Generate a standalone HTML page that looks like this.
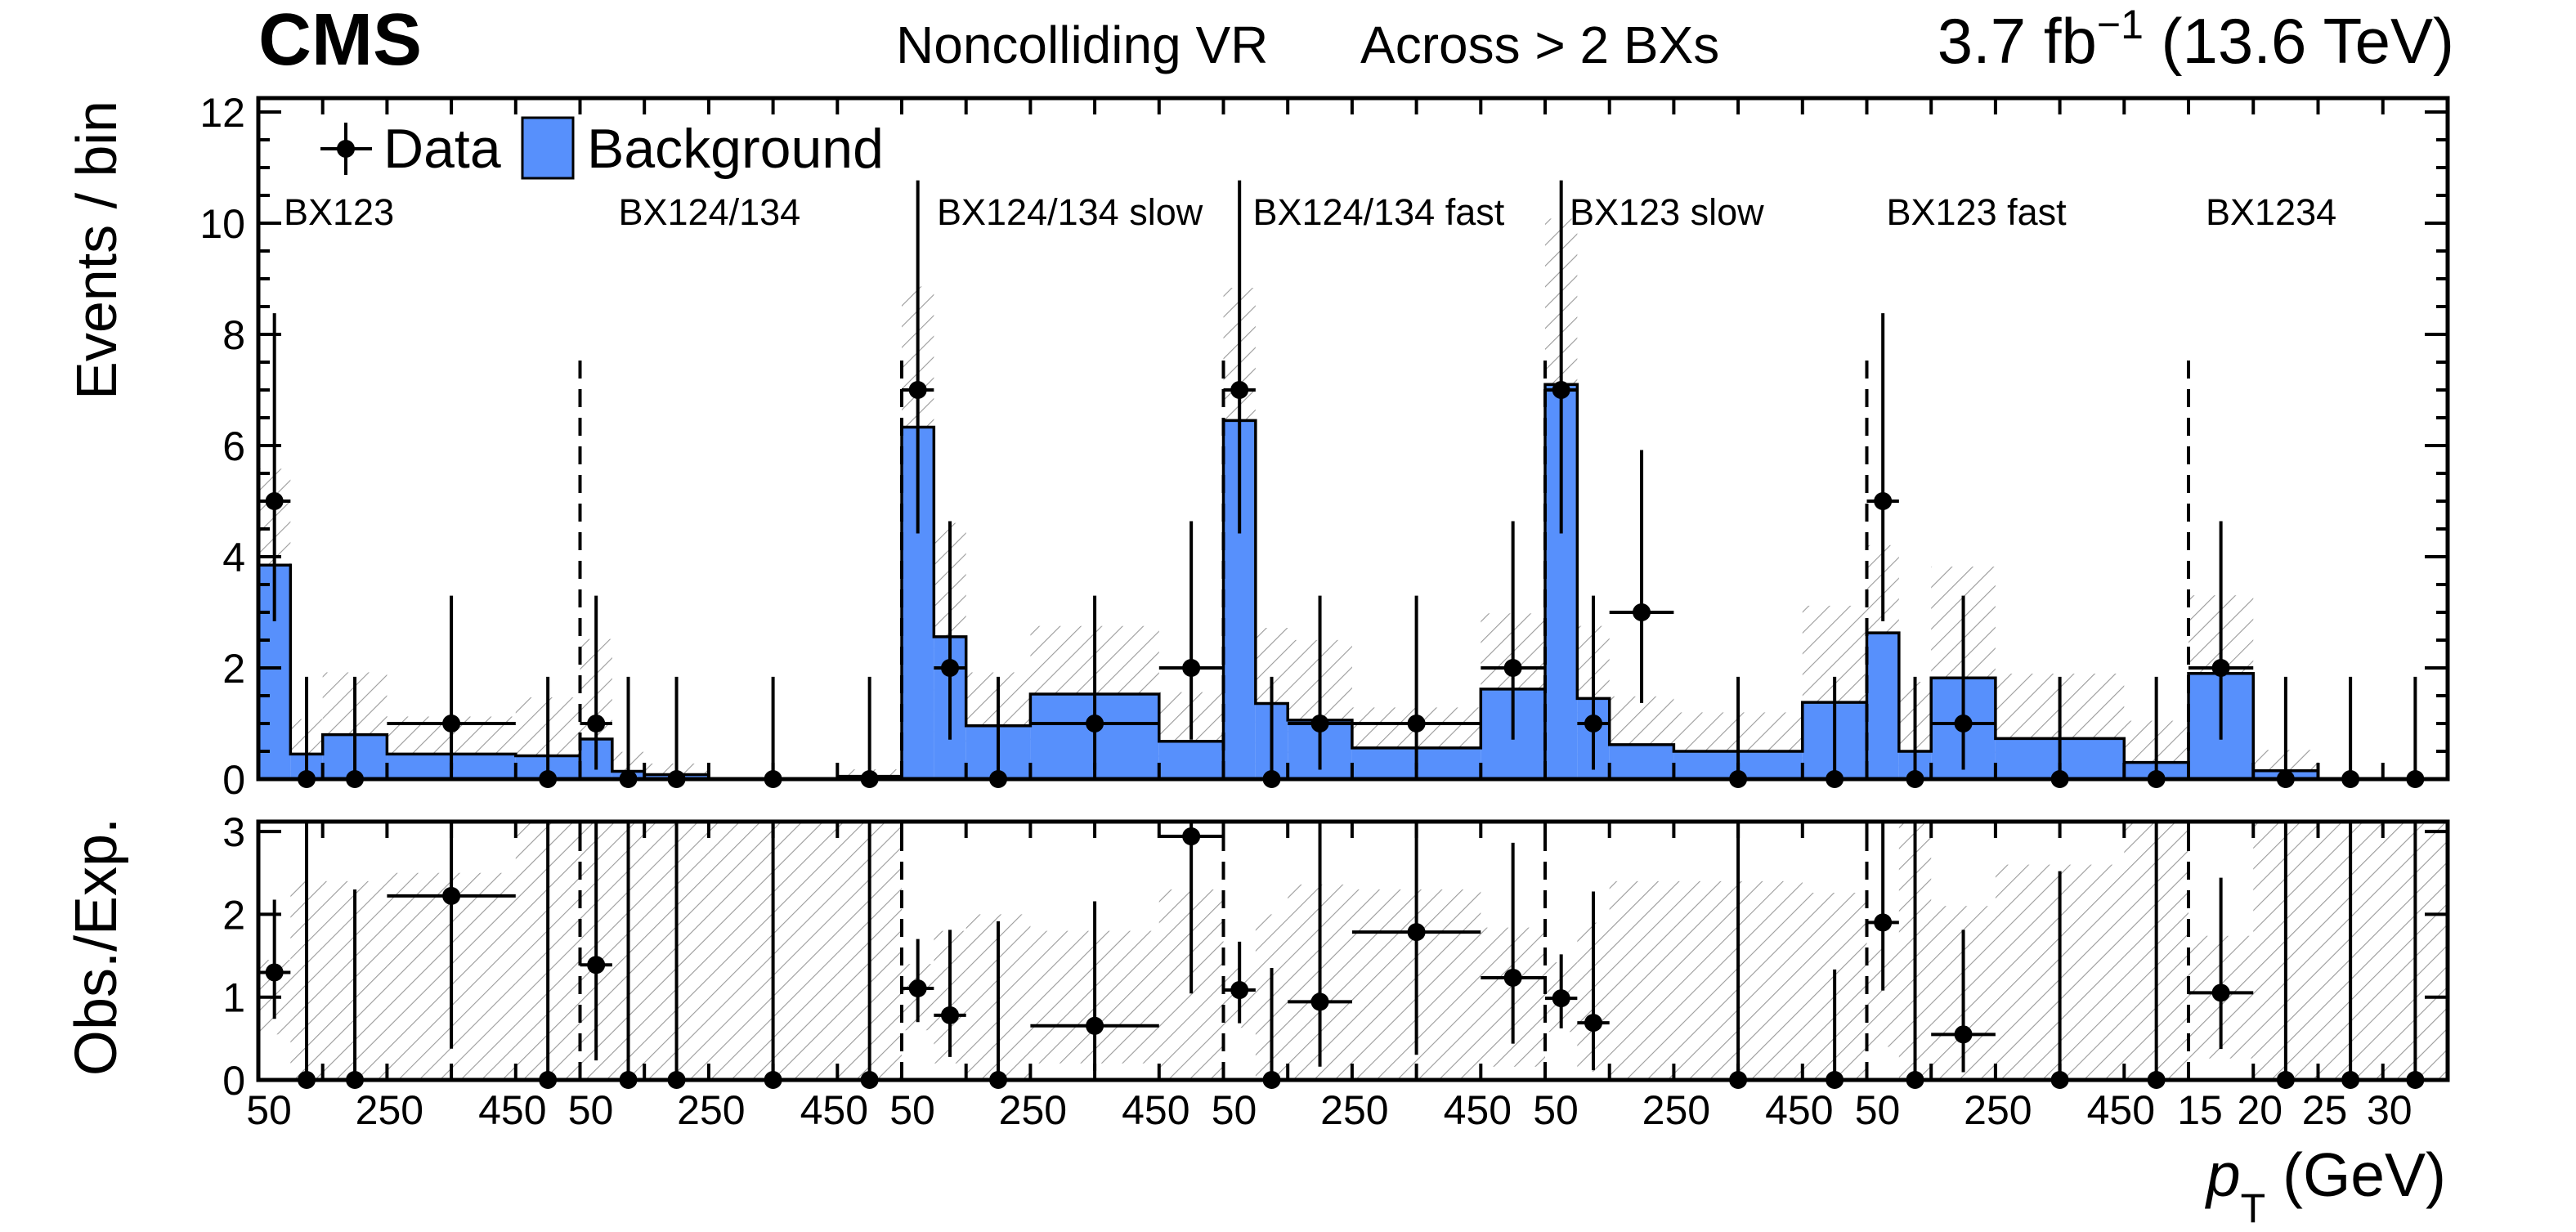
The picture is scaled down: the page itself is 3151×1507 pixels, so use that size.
<!DOCTYPE html>
<html><head><meta charset="utf-8">
<style>
html,body{margin:0;padding:0;background:#fff;}
svg{display:block;font-family:"Liberation Sans",Arial,sans-serif;}
</style></head>
<body>
<svg id="chart" width="3151" height="1507" viewBox="0 0 3151 1507" xmlns="http://www.w3.org/2000/svg">
<defs>
<pattern id="hatch" patternUnits="userSpaceOnUse" width="18" height="18" patternTransform="rotate(45)">
<line x1="0" y1="0" x2="0" y2="18" stroke="#9a9a9a" stroke-width="2.2"/>
</pattern>
<clipPath id="clipMain"><rect x="316" y="120" width="2678" height="833"/></clipPath>
<clipPath id="clipRatio"><rect x="316" y="1005" width="2678" height="316"/></clipPath>
</defs>
<g id="layer-hatch"></g>
<g id="layer-bg"></g>
<g id="layer-dividers"></g>
<g id="layer-data"></g>
<g id="layer-axes"></g>
<text x="316" y="79" font-size="90" font-weight="bold">CMS</text>
<text x="1096" y="77" font-size="64">Noncolliding VR</text>
<text x="1664" y="77" font-size="64">Across &gt; 2 BXs</text>
<text x="3002" y="77" font-size="78" text-anchor="end">3.7 fb<tspan dy="-30" font-size="50">−1</tspan><tspan dy="30"> (13.6 TeV)</tspan></text>
<g>
<line x1="392" y1="182" x2="455" y2="182" stroke="#000" stroke-width="4"/>
<line x1="423" y1="150" x2="423" y2="214" stroke="#000" stroke-width="4"/>
<circle cx="423" cy="182" r="11" fill="#000"/>
<text x="469" y="205" font-size="68">Data</text>
<rect x="639" y="144" width="62" height="74" fill="#5790fc" stroke="#000" stroke-width="3"/>
<text x="718" y="205" font-size="68">Background</text>
</g>
<text transform="translate(142,306) rotate(-90)" text-anchor="middle" font-size="70">Events / bin</text>
<text transform="translate(142,1158) rotate(-90)" text-anchor="middle" font-size="72">Obs./Exp.</text>
<text x="2992" y="1463" font-size="75" text-anchor="end"><tspan font-style="italic">p</tspan><tspan font-size="50" dy="32">T</tspan><tspan dy="-32"> (GeV)</tspan></text>
</svg>
<script>
// ---- data ----
const sectionNames = ["BX123","BX124/134","BX124/134 slow","BX124/134 fast","BX123 slow","BX123 fast","BX1234"];
const binEdgesPt = [50,100,150,250,450,550];
const binEdgesLast = [15,20,25,30,35];
const tickLabelsPt = ["50","250","450"];
const tickLabelsLast = ["15","20","25","30"];
const background = [
  [3.85,0.45,0.80,0.45,0.42],
  [0.72,0.14,0.08,0.01,0.05],
  [6.33,2.56,0.96,1.53,0.68],
  [6.45,1.36,1.06,0.56,1.62],
  [7.10,1.45,0.62,0.50,1.38],
  [2.63,0.50,1.82,0.73,0.30],
  [1.90,0.15,0.00,0.00]
];
const observed = [
  [5,0,0,1,0],
  [1,0,0,0,0],
  [7,2,0,1,2],
  [7,0,1,1,2],
  [7,1,3,0,0],
  [5,0,1,0,0],
  [2,0,0,0]
];
const relUnc = [
  [0.45,1.4,1.4,1.5,2.5],
  [2.5,2.5,2.5,2.5,2.5],
  [0.40,0.8,1.0,0.8,1.3],
  [0.37,1.0,1.36,1.3,0.84],
  [0.42,0.9,1.4,1.4,1.26],
  [0.60,2.5,1.1,1.6,2.5],
  [0.74,2.5,2.5,2.5]
];
const poissonLo = [0,0.17,0.71,1.37,2.09,2.84,3.62,4.42];
const poissonHi = [1.84,3.30,4.64,5.92,7.16,8.38,9.58,10.77];
const yTicksMain = [0,2,4,6,8,10,12];
const yTicksRatio = [0,1,2,3];
const labelOffsets = [31,47,43,36,30,24,21];

// ---- geometry ----
const NS = "http://www.w3.org/2000/svg";
const X0 = 316, X1 = 2994, SECW = 393.5;
const MAIN_T = 120, MAIN_B = 953, MAIN_UNIT = 68.0;
const R_T = 1005, R_B = 1321, R_UNIT = 101.3;
function secX0(s){ return X0 + s*SECW; }
function xPos(s, v){
  if (s < 6) return secX0(s) + (v - 50) * SECW/500;
  return secX0(6) + (v - 15) * (X1 - secX0(6))/20;
}
function yMain(v){ return MAIN_B - v*MAIN_UNIT; }
function yRatio(v){ return R_B - v*R_UNIT; }
function edgesOf(s){ return s < 6 ? binEdgesPt : binEdgesLast; }
function mk(tag, attrs, parent){
  const el = document.createElementNS(NS, tag);
  for (const k in attrs) el.setAttribute(k, attrs[k]);
  parent.appendChild(el);
  return el;
}
const gH = document.getElementById("layer-hatch");
const gB = document.getElementById("layer-bg");
const gD = document.getElementById("layer-dividers");
const gP = document.getElementById("layer-data");
const gA = document.getElementById("layer-axes");
const hMain = mk("g",{"clip-path":"url(#clipMain)"},gH);
const hRatio = mk("g",{"clip-path":"url(#clipRatio)"},gH);
const pMain = mk("g",{"clip-path":"url(#clipMain)"},gP);
const pRatio = mk("g",{"clip-path":"url(#clipRatio)"},gP);

for (let s = 0; s < sectionNames.length; s++){
  const e = edgesOf(s);
  let path = "";
  for (let i = 0; i < background[s].length; i++){
    const xa = xPos(s,e[i]), xb = xPos(s,e[i+1]);
    const b = background[s][i], u = relUnc[s][i], d = observed[s][i];
    if (b > 0){
      const hm = mk("rect",{x:xa,y:yMain(b*(1+u)),width:xb-xa,height:yMain(Math.max(0,b*(1-u)))-yMain(b*(1+u)),fill:"url(#hatch)"},hMain);
      
      
      const r = mk("rect",{x:xa,y:yMain(b),width:xb-xa,height:MAIN_B-yMain(b),fill:"#5790fc"},gB);
      
      
    }
    const lo = Math.max(0, 1-u), hi = Math.min(3.2, 1+u);
    const hr = mk("rect",{x:xa,y:yRatio(hi),width:xb-xa,height:yRatio(lo)-yRatio(hi),fill:"url(#hatch)"},hRatio);
    
    
    path += (i===0 ? "M"+xa+","+MAIN_B+" L"+xa+","+yMain(b) : " L"+xa+","+yMain(b)) + " L"+xb+","+yMain(b);
    if (i === background[s].length-1) path += " L"+xb+","+MAIN_B;
    const xc = (xa+xb)/2;
    const yl = poissonLo[d], yh = poissonHi[d];
    const ev = mk("line",{x1:xc,y1:yMain(yl),x2:xc,y2:yMain(yh),stroke:"#000","stroke-width":4},pMain);
    
    
    if (d > 0){
      const eh = mk("line",{x1:xa,y1:yMain(d),x2:xb,y2:yMain(d),stroke:"#000","stroke-width":4},pMain);
      
      
    }
    const c = mk("circle",{cx:xc,cy:yMain(d),r:11,fill:"#000"},gP);
    
    
    const rv = b > 0 ? d/b : 0;
    const rlo = b > 0 ? poissonLo[d]/b : 0;
    const rhi = b > 0 ? poissonHi[d]/b : 10;
    if (rv <= 3.12){
      const rev = mk("line",{x1:xc,y1:yRatio(rlo),x2:xc,y2:yRatio(Math.min(rhi,3.3)),stroke:"#000","stroke-width":4},pRatio);
      
      
      if (d > 0){
        const reh = mk("line",{x1:xa,y1:yRatio(rv),x2:xb,y2:yRatio(rv),stroke:"#000","stroke-width":4},pRatio);
        
        
      }
      const rc = mk("circle",{cx:xc,cy:yRatio(rv),r:11,fill:"#000"},gP);
      
      
    }
  }
  const outline = mk("path",{d:path,fill:"none",stroke:"#000","stroke-width":3.5},gB);
  
  
  const t = mk("text",{x:secX0(s)+labelOffsets[s],y:275,"font-size":45},gA);
  t.textContent = sectionNames[s];
  
  
  if (s > 0){
    const xd = secX0(s);
    const dv = mk("line",{x1:xd,y1:MAIN_B,x2:xd,y2:yMain(7.6),stroke:"#000","stroke-width":4,"stroke-dasharray":"22,13"},gD);
    
    
    const dr = mk("line",{x1:xd,y1:R_B,x2:xd,y2:R_T,stroke:"#000","stroke-width":4,"stroke-dasharray":"22,13"},gD);
    
    
  }
  const tvs = s < 6 ? [150,250,350,450,550] : [20,25,30];
  for (const v of tvs){
    const xt = xPos(s, v);
    for (const [yb,yt] of [[MAIN_B,MAIN_T],[R_B,R_T]]){
      mk("line",{x1:xt,y1:yb,x2:xt,y2:yb-20,stroke:"#000","stroke-width":4},gA);
      mk("line",{x1:xt,y1:yt,x2:xt,y2:yt+20,stroke:"#000","stroke-width":4},gA);
    }
  }
  if (s < 6){
    const pos = [secX0(s)+13, xPos(s,250)+3, xPos(s,450)-4];
    tickLabelsPt.forEach((lab,k)=>{
      const tl = mk("text",{x:pos[k],y:1375,"font-size":50,"text-anchor":"middle"},gA);
      tl.textContent = lab;
      
      
    });
  } else {
    const vals = [15,20,25,30];
    tickLabelsLast.forEach((lab,k)=>{
      const xx = k===0 ? secX0(s)+14 : xPos(s,vals[k])+8;
      const tl = mk("text",{x:xx,y:1375,"font-size":50,"text-anchor":"middle"},gA);
      tl.textContent = lab;
      
      
    });
  }
}

const f1 = mk("rect",{x:X0,y:MAIN_T,width:X1-X0,height:MAIN_B-MAIN_T,fill:"none",stroke:"#000","stroke-width":5},gA);


const f2 = mk("rect",{x:X0,y:R_T,width:X1-X0,height:R_B-R_T,fill:"none",stroke:"#000","stroke-width":5},gA);



for (let v = 0; v <= 12.01; v += 0.5){
  const major = Math.abs(v - Math.round(v/2)*2) < 1e-6;
  const len = major ? 28 : 14;
  const y = yMain(v);
  mk("line",{x1:X0,y1:y,x2:X0+len,y2:y,stroke:"#000","stroke-width":4},gA);
  mk("line",{x1:X1,y1:y,x2:X1-len,y2:y,stroke:"#000","stroke-width":4},gA);
}
yTicksMain.forEach(v=>{
  const t = mk("text",{x:300,y:yMain(v)+18,"font-size":50,"text-anchor":"end"},gA);
  t.textContent = String(v);
  
  
});
yTicksRatio.forEach(v=>{
  const y = yRatio(v);
  mk("line",{x1:X0,y1:y,x2:X0+28,y2:y,stroke:"#000","stroke-width":4},gA);
  mk("line",{x1:X1,y1:y,x2:X1-28,y2:y,stroke:"#000","stroke-width":4},gA);
  const t = mk("text",{x:300,y:y+18,"font-size":50,"text-anchor":"end"},gA);
  t.textContent = String(v);
  
  
});
</script>
</body></html>
